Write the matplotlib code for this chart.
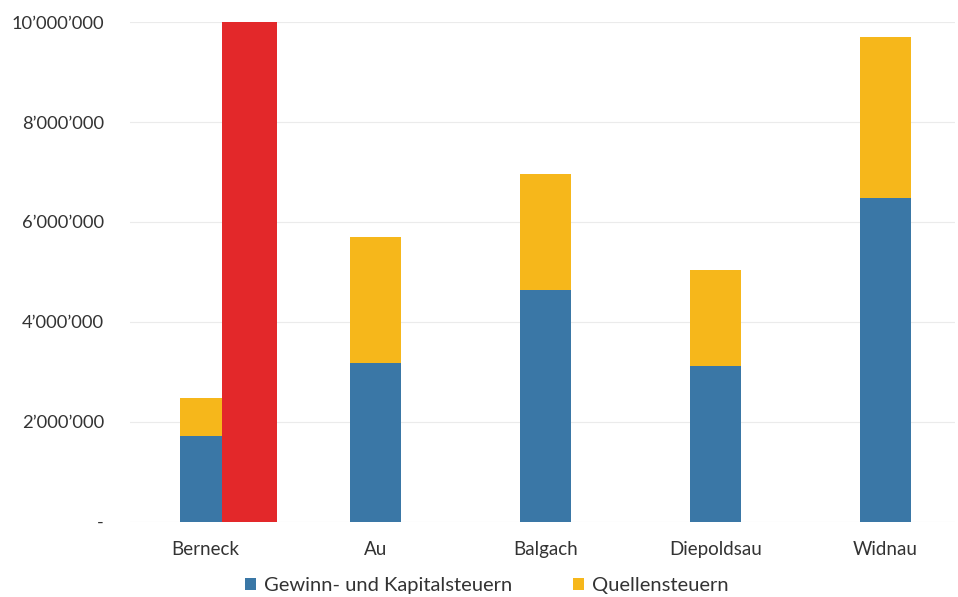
import matplotlib
matplotlib.use("Agg")
from matplotlib import pyplot as plt
from matplotlib.ticker import FuncFormatter

gemeinden = ["Berneck", "Au", "Balgach", "Diepoldsau", "Widnau"]
gewinn_kapital = [1720000, 3180000, 4640000, 3120000, 6480000]
quellen = [760000, 2520000, 2320000, 1920000, 3220000]
berneck_rot = 10000000

BLAU = "#3a77a6"
GELB = "#f6b71b"
ROT = "#e3282a"

plt.rcParams['font.family'] = ['Lato', 'DejaVu Sans']


def fmt(v, pos):
    if v == 0:
        return "-"
    return f"{int(v):,}".replace(",", "\u2019")


def main():
    fig = plt.figure(figsize=(9.58, 5.97), dpi=100)
    ax = fig.add_axes([0.136, 0.126, 0.861, 0.837])

    x = list(range(len(gemeinden)))
    breite = 0.3

    ax.bar(x, gewinn_kapital, width=breite, color=BLAU,
           label="Gewinn- und Kapitalsteuern", zorder=2)
    ax.bar(x, quellen, width=breite, bottom=gewinn_kapital, color=GELB,
           label="Quellensteuern", zorder=2)
    # roter Balken neben Berneck
    ax.bar(0.26, berneck_rot, width=0.32, color=ROT, zorder=3)

    ax.set_xlim(-0.44, 4.41)
    ax.set_ylim(0, 10000000)
    ax.set_yticks(range(0, 10000001, 2000000))
    ax.yaxis.set_major_formatter(FuncFormatter(fmt))
    ax.set_xticks(x)
    ax.set_xticklabels(gemeinden)

    ax.grid(axis='y', color='#ebebeb', linewidth=0.8, zorder=0)
    for s in ax.spines.values():
        s.set_visible(False)
    ax.tick_params(axis='both', length=0, colors='#333333')
    ax.tick_params(axis='y', pad=19, labelsize=13.2)
    ax.tick_params(axis='x', pad=14, labelsize=13.5)

    fig.legend(loc='lower center', bbox_to_anchor=(0.508, -0.026), ncol=2,
               frameon=False, fontsize=14.5, handlelength=0.55, handleheight=0.55,
               columnspacing=3.0, handletextpad=0.4, labelcolor='#333333')

    fig.savefig("out.png", dpi=100)


if __name__ == "__main__":
    main()
